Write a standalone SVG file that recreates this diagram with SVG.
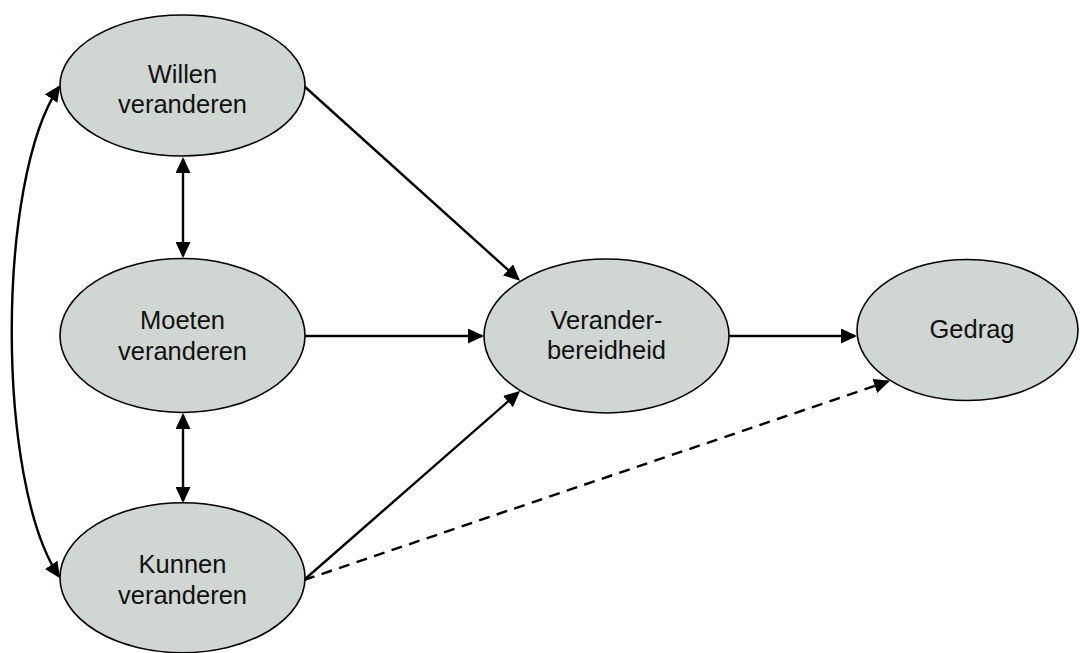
<svg xmlns="http://www.w3.org/2000/svg" width="1080" height="653" viewBox="0 0 1080 653">
<style>
.node ellipse{fill:#d0d6d2;stroke:#000;stroke-width:1.6}
.node text{font-family:"Liberation Sans",Arial,sans-serif;font-size:25.5px;fill:#111;text-anchor:middle}
.edge{fill:none;stroke:#000;stroke-width:2.4}
.dash{stroke-dasharray:11 7.5}
</style>
<defs>
<marker id="ah" markerUnits="userSpaceOnUse" viewBox="0 0 16 15" markerWidth="16" markerHeight="15" refX="14" refY="7.5" orient="auto-start-reverse">
<path d="M0,0 L16,7.5 L0,15 z" fill="#000"/>
</marker>
</defs>
<rect width="1080" height="653" fill="#fff"/>
<g id="connectors">
<path class="edge" d="M304,86 L518.5,279.3" marker-end="url(#ah)"/>
<path class="edge" d="M305,336 L482,336" marker-end="url(#ah)"/>
<path class="edge" d="M304,580 L518.5,392.3" marker-end="url(#ah)"/>
<path class="edge dash" d="M304,580 L888,381.5" marker-end="url(#ah)"/>
<path class="edge" d="M729,336 L855,336" marker-end="url(#ah)"/>
<path class="edge" d="M183,159 L183,256" marker-start="url(#ah)" marker-end="url(#ah)"/>
<path class="edge" d="M183,415 L183,501" marker-start="url(#ah)" marker-end="url(#ah)"/>
<path class="edge" d="M59,87 C -4,180 -4,483 59,576.5" marker-start="url(#ah)" marker-end="url(#ah)"/>
</g>
<g id="willen" class="node">
<ellipse cx="182.5" cy="85.5" rx="122.5" ry="70.5"/>
<text x="182.5" y="83.3">Willen</text>
<text x="182.5" y="113.3">veranderen</text>
</g>
<g id="moeten" class="node">
<ellipse cx="182.5" cy="335.5" rx="122.5" ry="77"/>
<text x="182.5" y="328.5">Moeten</text>
<text x="182.5" y="359.5">veranderen</text>
</g>
<g id="kunnen" class="node">
<ellipse cx="182.5" cy="577.7" rx="122.5" ry="75"/>
<text x="182.5" y="573.3">Kunnen</text>
<text x="182.5" y="604">veranderen</text>
</g>
<g id="veranderbereidheid" class="node">
<ellipse cx="606.5" cy="336" rx="122.5" ry="77"/>
<text x="606.5" y="329">Verander-</text>
<text x="606.5" y="359">bereidheid</text>
</g>
<g id="gedrag" class="node">
<ellipse cx="967.5" cy="330" rx="110.5" ry="70.5"/>
<text x="972" y="337.5">Gedrag</text>
</g>
</svg>
